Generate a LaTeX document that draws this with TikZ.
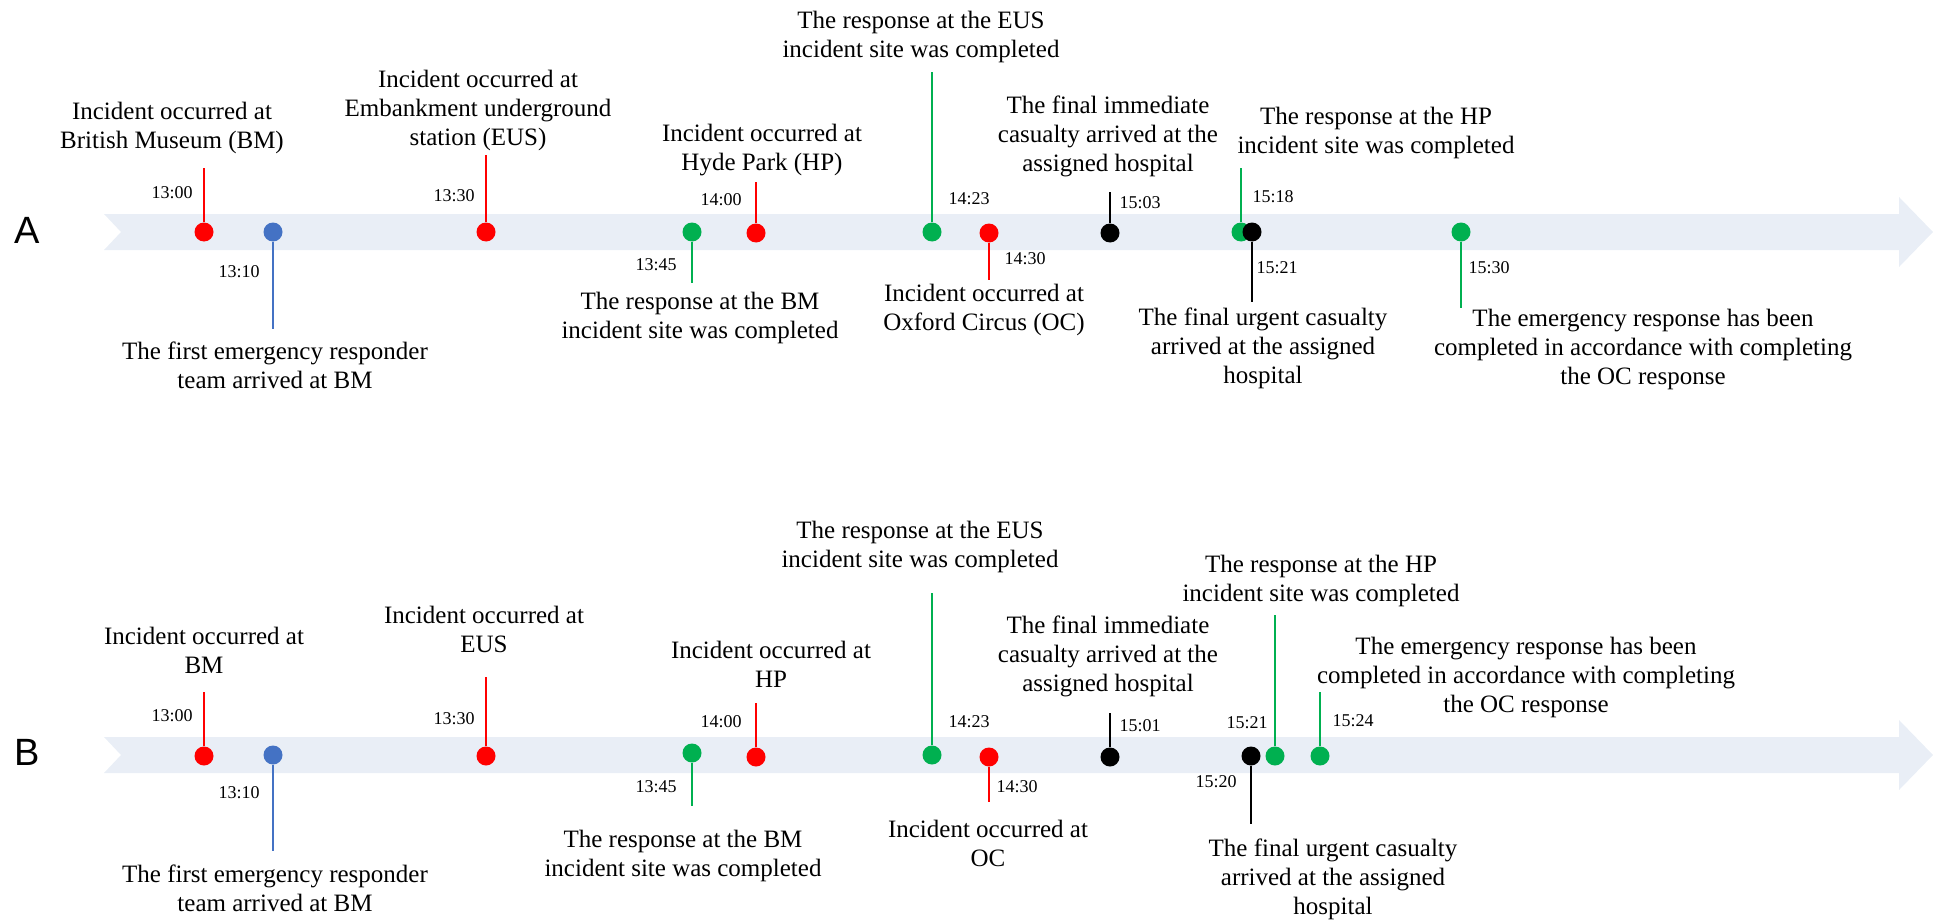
\documentclass[tikz,border=0pt]{standalone}
\usepackage{fontspec}
\setmainfont{Liberation Serif}
\newfontfamily\panelfont{Liberation Sans}
\definecolor{evred}{HTML}{FF0000}
\definecolor{evblue}{HTML}{4472C4}
\definecolor{evgreen}{HTML}{00B050}
\definecolor{bandfill}{HTML}{E9EEF6}
\tikzset{
  dot/.style={circle, fill=#1, draw=none, minimum size=19pt, inner sep=0pt},
  stem/.style={draw=#1, line width=1.4pt},
  desc/.style={align=center, inner sep=0pt, font=\fontsize{25}{29}\selectfont},
  stamp/.style={inner sep=0pt, font=\fontsize{18}{20}\selectfont},
  panel/.style={inner sep=0pt, font=\panelfont\fontsize{38}{40}\selectfont},
  band/.style={fill=bandfill, draw=none}
}
\begin{document}
\begin{tikzpicture}[x=1pt, y=-1pt]
\useasboundingbox (0,0) rectangle (1943,923);

% ---------------- Panel A ----------------
\fill[band] (104,214) -- (1899,214) -- (1899,197) -- (1933,232) -- (1899,267)
  -- (1899,250) -- (104,250) -- (121,232) -- cycle;
\node[panel] (pA) at (27,230) {A};

\node[dot=evred]   (a1)  at (204,232) {};
\node[dot=evblue]  (a2)  at (273,232) {};
\node[dot=evred]   (a3)  at (486,232) {};
\node[dot=evgreen] (a4)  at (692,232) {};
\node[dot=evred]   (a5)  at (756,233) {};
\node[dot=evgreen] (a6)  at (932,232) {};
\node[dot=evred]   (a7)  at (989,233) {};
\node[dot=black]   (a8)  at (1110,233) {};
\node[dot=evgreen] (a9)  at (1241,232) {};
\node[dot=black]   (a10) at (1252,232) {};
\node[dot=evgreen] (a11) at (1461,232) {};

\coordinate (a1e)  at (204,168);
\coordinate (a2e)  at (273,329);
\coordinate (a3e)  at (486,155);
\coordinate (a4e)  at (692,283);
\coordinate (a5e)  at (756,182);
\coordinate (a6e)  at (932,72);
\coordinate (a7e)  at (989,280);
\coordinate (a8e)  at (1110,192);
\coordinate (a9e)  at (1241,168);
\coordinate (a10e) at (1252,302);
\coordinate (a11e) at (1461,308);

\draw[stem=evred]   (a1) -- (a1e);
\draw[stem=evblue]  (a2) -- (a2e);
\draw[stem=evred]   (a3) -- (a3e);
\draw[stem=evgreen] (a4) -- (a4e);
\draw[stem=evred]   (a5) -- (a5e);
\draw[stem=evgreen] (a6) -- (a6e);
\draw[stem=evred]   (a7) -- (a7e);
\draw[stem=black]   (a8) -- (a8e);
\draw[stem=evgreen] (a9) -- (a9e);
\draw[stem=black]   (a10) -- (a10e);
\draw[stem=evgreen] (a11) -- (a11e);

\node[stamp] (ta1)  at (172,193)  {13:00};
\node[stamp] (ta2)  at (239,272)  {13:10};
\node[stamp] (ta3)  at (454,196)  {13:30};
\node[stamp] (ta4)  at (656,265)  {13:45};
\node[stamp] (ta5)  at (721,200)  {14:00};
\node[stamp] (ta6)  at (969,199)  {14:23};
\node[stamp] (ta7)  at (1025,259) {14:30};
\node[stamp] (ta8)  at (1140,203) {15:03};
\node[stamp] (ta9)  at (1273,197) {15:18};
\node[stamp] (ta10) at (1277,268) {15:21};
\node[stamp] (ta11) at (1489,268) {15:30};

\node[desc] (la1)  at (172,128)  {Incident occurred at\\British Museum (BM)};
\node[desc] (la2)  at (275,365)  {The first emergency responder\\team arrived at BM};
\node[desc] (la3)  at (478,110)  {Incident occurred at\\Embankment underground\\station (EUS)};
\node[desc] (la4)  at (700,318)  {The response at the BM\\incident site was completed};
\node[desc] (la5)  at (762,150)  {Incident occurred at\\Hyde Park (HP)};
\node[desc] (la6)  at (921,37)   {The response at the EUS\\incident site was completed};
\node[desc] (la7)  at (984,310)  {Incident occurred at\\Oxford Circus (OC)};
\node[desc] (la8)  at (1108,136) {The final immediate\\casualty arrived at the\\assigned hospital};
\node[desc] (la9)  at (1376,133) {The response at the HP\\incident site was completed};
\node[desc] (la10) at (1263,348) {The final urgent casualty\\arrived at the assigned\\hospital};
\node[desc] (la11) at (1643,349) {The emergency response has been\\completed in accordance with completing\\the OC response};

% ---------------- Panel B ----------------
\fill[band] (104,737) -- (1899,737) -- (1899,720) -- (1933,755) -- (1899,790)
  -- (1899,773) -- (104,773) -- (121,755) -- cycle;
\node[panel] (pB) at (27,752) {B};

\node[dot=evred]   (b1)  at (204,756) {};
\node[dot=evblue]  (b2)  at (273,755) {};
\node[dot=evred]   (b3)  at (486,756) {};
\node[dot=evgreen] (b4)  at (692,753) {};
\node[dot=evred]   (b5)  at (756,757) {};
\node[dot=evgreen] (b6)  at (932,755) {};
\node[dot=evred]   (b7)  at (989,757) {};
\node[dot=black]   (b8)  at (1110,757) {};
\node[dot=black]   (b9)  at (1251,756) {};
\node[dot=evgreen] (b10) at (1275,756) {};
\node[dot=evgreen] (b11) at (1320,756) {};

\coordinate (b1e)  at (204,692);
\coordinate (b2e)  at (273,851);
\coordinate (b3e)  at (486,677);
\coordinate (b4e)  at (692,806);
\coordinate (b5e)  at (756,703);
\coordinate (b6e)  at (932,593);
\coordinate (b7e)  at (989,802);
\coordinate (b8e)  at (1110,713);
\coordinate (b9e)  at (1251,824);
\coordinate (b10e) at (1275,615);
\coordinate (b11e) at (1320,692);

\draw[stem=evred]   (b1) -- (b1e);
\draw[stem=evblue]  (b2) -- (b2e);
\draw[stem=evred]   (b3) -- (b3e);
\draw[stem=evgreen] (b4) -- (b4e);
\draw[stem=evred]   (b5) -- (b5e);
\draw[stem=evgreen] (b6) -- (b6e);
\draw[stem=evred]   (b7) -- (b7e);
\draw[stem=black]   (b8) -- (b8e);
\draw[stem=black]   (b9) -- (b9e);
\draw[stem=evgreen] (b10) -- (b10e);
\draw[stem=evgreen] (b11) -- (b11e);

\node[stamp] (tb1)  at (172,716)  {13:00};
\node[stamp] (tb2)  at (239,793)  {13:10};
\node[stamp] (tb3)  at (454,719)  {13:30};
\node[stamp] (tb4)  at (656,787)  {13:45};
\node[stamp] (tb5)  at (721,722)  {14:00};
\node[stamp] (tb6)  at (969,722)  {14:23};
\node[stamp] (tb7)  at (1017,787) {14:30};
\node[stamp] (tb8)  at (1140,726) {15:01};
\node[stamp] (tb9)  at (1216,782) {15:20};
\node[stamp] (tb10) at (1247,723) {15:21};
\node[stamp] (tb11) at (1353,721) {15:24};

\node[desc] (lb1)  at (204,650)  {Incident occurred at\\BM};
\node[desc] (lb2)  at (275,888)  {The first emergency responder\\team arrived at BM};
\node[desc] (lb3)  at (484,629)  {Incident occurred at\\EUS};
\node[desc] (lb4)  at (683,856)  {The response at the BM\\incident site was completed};
\node[desc] (lb5)  at (771,664)  {Incident occurred at\\HP};
\node[desc] (lb6)  at (920,547)  {The response at the EUS\\incident site was completed};
\node[desc] (lb7)  at (988,843)  {Incident occurred at\\OC};
\node[desc] (lb8)  at (1108,656) {The final immediate\\casualty arrived at the\\assigned hospital};
\node[desc] (lb9)  at (1333,879) {The final urgent casualty\\arrived at the assigned\\hospital};
\node[desc] (lb10) at (1321,581) {The response at the HP\\incident site was completed};
\node[desc] (lb11) at (1526,677) {The emergency response has been\\completed in accordance with completing\\the OC response};
\end{tikzpicture}
\end{document}
